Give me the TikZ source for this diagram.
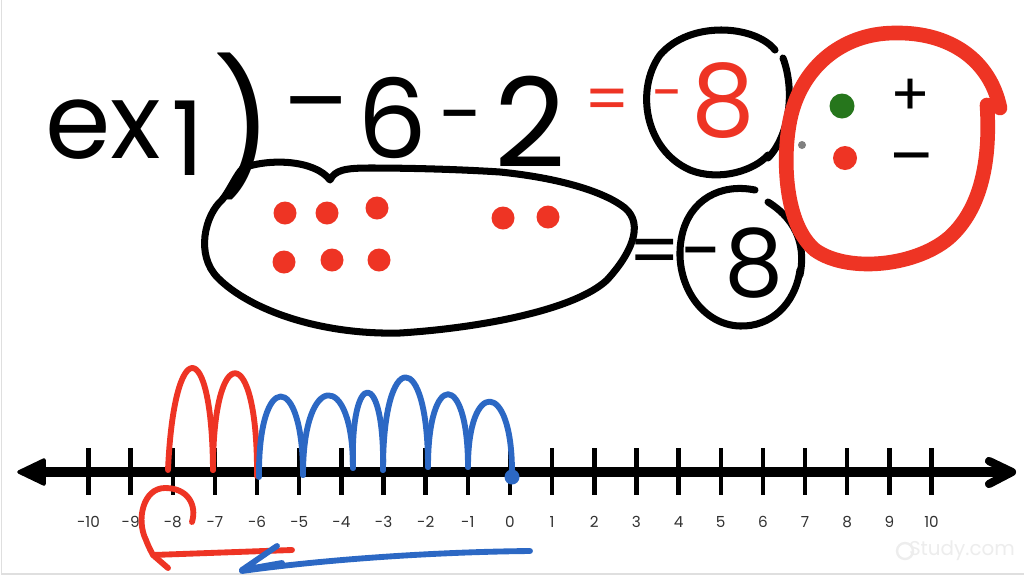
\documentclass[tikz,border=0pt]{standalone}
\usepackage{fontspec}
\setmainfont{Poppins}
\definecolor{mred}{RGB}{238,52,36}
\definecolor{mblue}{RGB}{44,104,196}
\definecolor{mgreen}{RGB}{38,118,28}
\definecolor{lblc}{RGB}{50,50,50}
\begin{document}
\begin{tikzpicture}[x=0.03cm,y=-0.03cm,
  ink/.style={line width=6pt, line cap=round, line join=round},
  ringink/.style={ink, draw=mred, line width=12.5pt},
  blueink/.style={ink, draw=mblue, line width=5pt},
  hopred/.style={ink, draw=mred, line width=5pt},
  hw/.style={inner sep=0pt, outer sep=0pt, text=black},
  hwred/.style={hw, text=mred},
  tickline/.style={line width=3.8pt, black},
  lbl/.style={inner sep=0pt, text=lblc, font=\fontsize{13}{13}\selectfont},
  reddot/.style={fill=mred, draw=none},
]
\useasboundingbox (0,0) rectangle (1024,576);
\fill[white] (0,0) rectangle (1024,576);
\draw[gray!25, line width=1pt] (1.5,0) -- (1.5,574) -- (1024,574);

% ---------- top expression ----------
\node[hw, font=\fontsize{90}{90}\selectfont] (ex) at (103,130) {ex};
\node[hw, font=\fontsize{88}{88}\selectfont] (one) at (188,138) {1};
\node[hw, font=\fontsize{112}{112}\selectfont] (paren) at (243,126) {)};
\node[hw, font=\fontsize{82}{82}\selectfont] (mA) at (316,116) {–};
\node[hw, font=\fontsize{94}{94}\selectfont] (six) at (392,118) {6};
\node[hw, font=\fontsize{68}{68}\selectfont] (mB) at (461,126) {-};
\node[hw, font=\fontsize{106}{106}\selectfont] (two) at (530,122) {2};
\node[hwred, font=\fontsize{54}{54}\selectfont] (eqA) at (607,105) {=};
\node[hwred, font=\fontsize{48}{48}\selectfont] (mC) at (668,101) {-};
\node[hwred, font=\fontsize{86}{86}\selectfont] (eightA) at (723,101) {8};

% circle around red -8
\draw[ink] (775,50) .. controls (755,25) and (690,20) .. (660,55)
  .. controls (635,90) and (645,150) .. (690,170)
  .. controls (720,182) and (755,170) .. (768,155);
\draw[ink] (783,58) .. controls (795,90) and (790,135) .. (768,158);

% ---------- brace + oval ----------
\draw[ink] (243,168) .. controls (270,158) and (315,160) .. (330,180)
  .. controls (335,170) and (345,168) .. (370,168)
  .. controls (420,168) and (470,170) .. (500,172)
  .. controls (560,178) and (605,192) .. (625,208)
  .. controls (645,225) and (630,255) .. (607,280)
  .. controls (575,310) and (480,328) .. (400,333)
  .. controls (320,335) and (250,310) .. (218,278)
  .. controls (195,255) and (205,215) .. (222,200)
  .. controls (230,190) and (236,175) .. (243,168);
\foreach \p in {(285,213),(327,213),(377,208),(503,218),(548,217),(284,262),(332,260),(379,260)}
  \fill[reddot] \p circle (11.5);

% ---------- = -8 circled ----------
\node[hw, font=\fontsize{62}{62}\selectfont] (eqB) at (655,258) {=};
\node[hw, font=\fontsize{64}{64}\selectfont] (mD) at (702,262) {-};
\node[hw, font=\fontsize{80}{80}\selectfont] (eightB) at (754,263) {8};
\draw[ink] (755,190) .. controls (720,183) and (690,200) .. (682,235)
  .. controls (672,280) and (700,325) .. (740,326)
  .. controls (770,327) and (795,305) .. (800,270);
\draw[ink] (768,202) .. controls (800,222) and (805,250) .. (800,275);

% ---------- red ring with key ----------
\draw[ringink] (987,105) .. controls (990,150) and (985,200) .. (955,232)
  .. controls (925,265) and (850,275) .. (815,250)
  .. controls (785,225) and (782,160) .. (790,120)
  .. controls (800,70) and (840,33) .. (895,33)
  .. controls (950,32) and (990,60) .. (1000,108);
\fill[mgreen] (842,106) circle (12.5);
\fill[mred] (845,158) circle (12);
\fill[gray] (802,145) circle (4);
\node[hw, font=\fontsize{50}{50}\selectfont] (plus) at (910,97) {+};
\node[hw, font=\fontsize{56}{56}\selectfont] (minus) at (912,166) {–};

% ---------- number line ----------
\draw[line width=8.5pt] (32,472) -- (1005,472);
\fill[line join=round, draw, line width=3pt] (19,472) -- (44,460) -- (44,484) -- cycle;
\draw[line width=7pt, line cap=round, line join=round] (989,461) -- (1012,472) -- (989,484);
\foreach \k in {-10,...,10}{
  \pgfmathsetmacro\xx{510+42.15*\k}
  \draw[tickline] (\xx,448) -- (\xx,495);
  \node[lbl] (n\k) at (\xx,522) {\k};
}

% red hops
\draw[hopred] (168,470) .. controls (174,334) and (212,334) .. (213,470);
\draw[hopred] (213,470) .. controls (213,340) and (258,340) .. (257,476);
% blue hops
\draw[blueink] (259,477) .. controls (258,370) and (303,370) .. (303,475);
\draw[blueink] (303,475) .. controls (303,370) and (353,370) .. (353,468);
\draw[blueink] (353,468) .. controls (350,367) and (385,367) .. (383,470);
\draw[blueink] (383,470) .. controls (383,347) and (428,347) .. (428,467);
\draw[blueink] (428,467) .. controls (428,370) and (468,370) .. (468,467);
\draw[blueink] (468,467) .. controls (468,379) and (512,379) .. (512,472);
\fill[mblue] (512,477) circle (7.5);

% red circled -8 with arrow
\draw[hopred] (192,522) .. controls (197,505) and (188,488) .. (165,488)
  .. controls (143,488) and (136,520) .. (146,540)
  .. controls (149,548) and (152,553) .. (153,555) -- (292,550);
\draw[hopred] (153,555) -- (168,568);
% blue arrow
\draw[blueink] (530,551) .. controls (430,552) and (320,560) .. (242,571);
\draw[blueink] (277,546) -- (242,570) -- (282,563);

% watermark
\draw[gray!14, line width=2pt] (905,551) circle (8);
\node[text=gray!14, inner sep=0pt, font=\fontsize{17}{17}\selectfont] (wm) at (962,551) {Study.com};
\end{tikzpicture}
\end{document}
